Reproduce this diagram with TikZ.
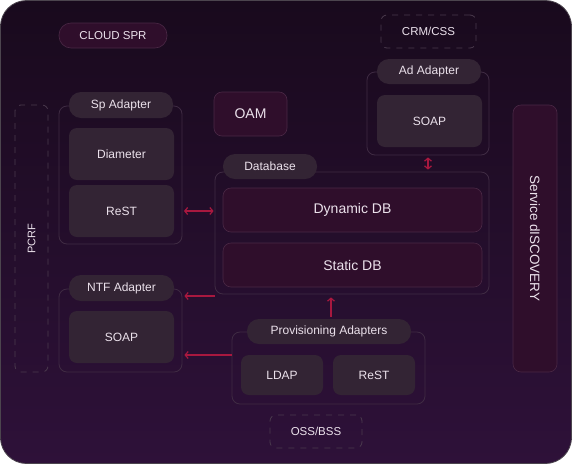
\documentclass[tikz,border=0pt]{standalone}
\usepackage{fontspec}
\setmainfont{Liberation Sans}
\usepackage{xcolor}
\usepackage{tikz}
\usetikzlibrary{positioning,calc,arrows.meta}
\definecolor{bgtop}{HTML}{190A1D}
\definecolor{bgbot}{HTML}{2E1139}
\definecolor{cardfill}{HTML}{332434}
\definecolor{dbfill}{HTML}{2F0E2B}
\definecolor{dbline}{HTML}{4A2845}
\definecolor{grpline}{HTML}{3F2B43}
\definecolor{dashline}{HTML}{4A3A4D}
\definecolor{linkred}{HTML}{A8183F}
\definecolor{txt}{HTML}{EBE1EB}

\begin{document}
\begin{tikzpicture}[
	x=1pt, y=-1pt,
	grp/.style={ % khung nhóm adapter
		draw=grpline, line width=0.8pt,
		rounded corners=8pt,
		inner sep=0pt
	},
	pill/.style={ % nhãn tên nhóm
		fill=cardfill, draw=none,
		rounded corners=12pt,
		inner sep=0pt, text=txt,
		font=\fontsize{12}{14}\selectfont
	},
	card/.style={ % ô giao thức
		fill=cardfill, draw=none,
		rounded corners=8pt,
		inner sep=0pt, text=txt,
		font=\fontsize{12}{14}\selectfont
	},
	dbbox/.style={ % ô tối màu đỏ
		fill=dbfill, draw=dbline, line width=0.6pt,
		rounded corners=8pt,
		inner sep=0pt, text=txt,
		font=\fontsize{14}{16}\selectfont
	},
	ext/.style={ % hệ thống bên ngoài (nét đứt)
		draw=dashline, line width=0.8pt,
		dash pattern=on 6pt off 6pt,
		rounded corners=6pt,
		inner sep=0pt, text=txt,
		font=\fontsize{11.5}{13}\selectfont
	},
	link/.style={ % mũi tên kết nối
		draw=linkred, line width=1.2pt,
		arrows={-Straight Barb[length=3pt,width=7pt]}
	}
	]
	
	% ================= NỀN =================
	\useasboundingbox (0,0) rectangle (572,464);
	\shade[top color=bgtop, bottom color=bgbot, draw=gray!50!bgtop, line width=0.8pt,
	rounded corners=26pt] (0.5,0.5) rectangle (571.5,463.5);
	
	% ================= TRÊN CÙNG =================
	\node[dbbox, font=\fontsize{11.5}{13}\selectfont, rounded corners=12pt,
	minimum width=108pt, minimum height=25pt] (cloud) at (113,35.5) {CLOUD SPR};
	\node[ext, minimum width=95pt, minimum height=33pt] (crm) at (428.5,31.5) {CRM/CSS};
	\node[dbbox, minimum width=73pt, minimum height=44pt] (oam) at (250.5,114) {OAM};
	
	% ================= CỘT BÊN =================
	\node[ext, rotate=90, font=\fontsize{11}{13}\selectfont,
	minimum width=267pt, minimum height=33pt] (pcrf) at (31.5,238.5) {PCRF};
	\node[dbbox, rotate=-90, font=\fontsize{13.5}{15}\selectfont,
	minimum width=267pt, minimum height=44pt] (sd) at (535,238.5) {Service dISCOVERY};
	
	% ================= Sp Adapter =================
	\node[grp, minimum width=123pt, minimum height=138pt] (spgrp) at (120.5,175) {};
	\node[pill, minimum width=104pt, minimum height=26pt] (sppill) at (121,105) {Sp Adapter};
	\node[card, minimum width=105pt, minimum height=52pt] (spdia) at (121.5,154) {Diameter};
	\node[card, minimum width=105pt, minimum height=52pt] (sprest) at (121.5,211) {ReST};
	
	% ================= NTF Adapter =================
	\node[grp, minimum width=123pt, minimum height=83pt] (ntfgrp) at (120.5,330.5) {};
	\node[pill, minimum width=105pt, minimum height=26pt] (ntfpill) at (121.5,288) {NTF Adapter};
	\node[card, minimum width=105pt, minimum height=52pt] (ntfsoap) at (121.5,337) {SOAP};
	
	% ================= Ad Adapter =================
	\node[grp, minimum width=122pt, minimum height=83pt] (adgrp) at (428,113.5) {};
	\node[pill, minimum width=104pt, minimum height=25pt] (adpill) at (429,71.5) {Ad Adapter};
	\node[card, minimum width=105pt, minimum height=52pt] (adsoap) at (429.5,121) {SOAP};
	
	% ================= Database =================
	\node[grp, minimum width=274pt, minimum height=122pt] (dbgrp) at (352,233) {};
	\node[pill, minimum width=94pt, minimum height=25pt] (dbpill) at (270,166.5) {Database};
	\node[dbbox, minimum width=259pt, minimum height=44pt] (dyn) at (352.5,210) {Dynamic DB};
	\node[dbbox, minimum width=259pt, minimum height=44pt] (stat) at (352.5,265) {Static DB};
	
	% ================= Provisioning Adapters =================
	\node[grp, minimum width=193pt, minimum height=72pt] (provgrp) at (328.5,368) {};
	\node[pill, minimum width=164pt, minimum height=25pt] (provpill) at (329,331.5) {Provisioning Adapters};
	\node[card, minimum width=82pt, minimum height=40pt] (ldap) at (282,375) {LDAP};
	\node[card, minimum width=82pt, minimum height=40pt] (prest) at (374,375) {ReST};
	\node[ext, minimum width=92pt, minimum height=33pt] (oss) at (316,431.5) {OSS/BSS};
	
	% ================= MŨI TÊN =================
	\draw[link, {Straight Barb[length=3pt,width=7pt]}-{Straight Barb[length=3pt,width=7pt]},
	shorten <=1.5pt, shorten >=1pt] (spgrp.east |- sprest) -- (dbgrp.west |- sprest);
	\draw[link, shorten >=2pt] (dbgrp.west |- 0,296) -- (ntfgrp.east |- 0,296);
	\draw[link, shorten >=2pt] (provgrp.west |- 0,355) -- (ntfgrp.east |- 0,355);
	\draw[link, shorten <=2pt, shorten >=3pt] (provpill.north -| 331,0) -- (dbgrp.south -| 331,0);
	\draw[link, {Straight Barb[length=3pt,width=7pt]}-{Straight Barb[length=3pt,width=7pt]},
	shorten <=2pt, shorten >=2pt] (adgrp.south) -- (dbgrp.north -| adgrp.south);
	
\end{tikzpicture}
\end{document}
